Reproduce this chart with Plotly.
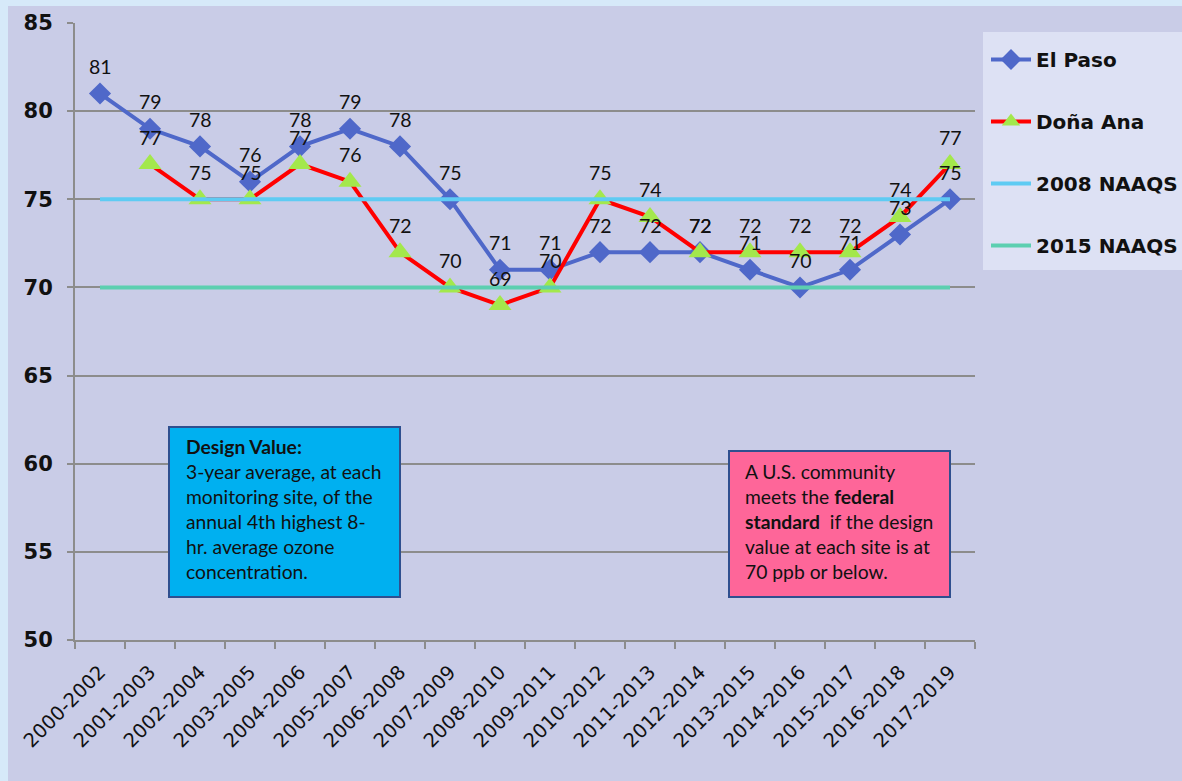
import plotly.graph_objects as go

periods = ["2000-2002", "2001-2003", "2002-2004", "2003-2005", "2004-2006", "2005-2007",
           "2006-2008", "2007-2009", "2008-2010", "2009-2011", "2010-2012", "2011-2013",
           "2012-2014", "2013-2015", "2014-2016", "2015-2017", "2016-2018", "2017-2019"]
el_paso = [81, 79, 78, 76, 78, 79, 78, 75, 71, 71, 72, 72, 72, 71, 70, 71, 73, 75]
dona_ana = [None, 77, 75, 75, 77, 76, 72, 70, 69, 70, 75, 74, 72, 72, 72, 72, 74, 77]
naaqs_2008 = [75, 75, 75, 75, 75, 75, 75, 75, 75, 75, 75, 75, 75, 75, 75, 75, 75, 75]
naaqs_2015 = [70, 70, 70, 70, 70, 70, 70, 70, 70, 70, 70, 70, 70, 70, 70, 70, 70, 70]
y_ticks = [50, 55, 60, 65, 70, 75, 80, 85]

W, H = 1182, 781
L, R, T, B = 75, 975, 23, 640


def px(xp):
    return (xp - L) / (R - L)


def py(yp):
    return (B - yp) / (B - T)


fig = go.Figure()
fig.add_trace(go.Scatter(
    x=periods, y=el_paso, name="El Paso", mode="lines+markers",
    line=dict(color="#4f68c9", width=4),
    marker=dict(symbol="diamond", size=17, color="#4f68c9"),
    legendgroup="a"))
fig.add_trace(go.Scatter(
    x=periods, y=dona_ana, name="Doña Ana", mode="lines+markers",
    line=dict(color="#ff0000", width=4),
    marker=dict(symbol="triangle-up", size=20, color="#a3e84c"),
    legendgroup="b"))
fig.add_trace(go.Scatter(
    x=periods, y=naaqs_2008, name="2008 NAAQS", mode="lines",
    line=dict(color="#5ecbf3", width=4), legendgroup="c"))
fig.add_trace(go.Scatter(
    x=periods, y=naaqs_2015, name="2015 NAAQS", mode="lines",
    line=dict(color="#5ccfb0", width=4), legendgroup="d"))

annotations = []
for series in (el_paso, dona_ana):
    for p, v in zip(periods, series):
        if v is None:
            continue
        annotations.append(dict(
            x=p, y=v, xref="x", yref="y", text=str(v), showarrow=False,
            yshift=27, font=dict(family="Lato", size=19.5, color="#111111")))

annotations.append(dict(
    xref="paper", yref="paper", x=px(185), y=py(434), xanchor="left", yanchor="top",
    text=("<b>Design Value:</b><br>3-year average, at each<br>monitoring site, of the<br>"
          "annual 4th highest 8-<br>hr. average ozone<br>concentration."),
    align="left", showarrow=False, borderpad=0,
    font=dict(family="Lato", size=19.3, color="#111111")))
annotations.append(dict(
    xref="paper", yref="paper", x=px(744), y=py(459), xanchor="left", yanchor="top",
    text=("A U.S. community<br>meets the <b>federal</b><br><b>standard</b>  if the design<br>"
          "value at each site is at<br>70 ppb or below."),
    align="left", showarrow=False, borderpad=0,
    font=dict(family="Lato", size=19.3, color="#111111")))

shapes = [
    dict(type="rect", xref="paper", yref="paper", x0=px(8), x1=px(W + 5), y0=py(W + 5), y1=py(6),
         fillcolor="#c9cce7", line=dict(width=0), layer="below"),
    dict(type="rect", xref="paper", yref="paper", x0=px(983), x1=px(W + 5), y0=py(270), y1=py(32),
         fillcolor="#dde1f4", line=dict(width=0), layer="below"),
    dict(type="rect", xref="paper", yref="paper", x0=px(169), x1=px(400), y0=py(597), y1=py(427),
         fillcolor="#00b0f0", line=dict(color="#2f4f8f", width=2), layer="above"),
    dict(type="rect", xref="paper", yref="paper", x0=px(729), x1=px(950), y0=py(597), y1=py(451),
         fillcolor="#fe6699", line=dict(color="#2f4f8f", width=2), layer="above"),
]

fig.update_layout(
    width=W, height=H,
    margin=dict(l=L, r=W - R, t=T, b=H - B, autoexpand=False),
    paper_bgcolor="#d6e9f9",
    plot_bgcolor="rgba(0,0,0,0)",
    showlegend=True,
    legend=dict(x=px(986), y=py(40), xanchor="left", yanchor="top",
                bgcolor="rgba(0,0,0,0)", tracegroupgap=33,
                font=dict(family="DejaVu Sans", size=20, color="#111111", weight="bold"),
                itemwidth=40),
    annotations=annotations,
    shapes=shapes,
    xaxis=dict(
        type="category", range=[-0.5, 17.5], tickson="boundaries",
        ticks="outside", ticklen=7, tickcolor="#8c8c8c", tickwidth=2,
        showline=True, linecolor="#8c8c8c", linewidth=2, showgrid=False,
        ticklabelstandoff=11,
        tickangle=-45, tickfont=dict(family="DejaVu Sans", size=19.5, color="#111111")),
    yaxis=dict(
        range=[50, 85], tickvals=y_ticks, ticks="outside", ticklen=6,
        tickcolor="#8c8c8c", tickwidth=2, showline=True, linecolor="#8c8c8c", linewidth=2,
        showgrid=True, gridcolor="#8c8c8c", gridwidth=1.5, zeroline=False,
        ticklabelstandoff=10,
        tickfont=dict(family="DejaVu Sans", size=21, color="#111111", weight="bold")),
)

fig.write_html(
    "out.html",
    config={"displayModeBar": False},
    post_script="document.body.style.margin='0';document.body.style.overflow='hidden';"
                "document.body.style.background='#d6e9f9';")
